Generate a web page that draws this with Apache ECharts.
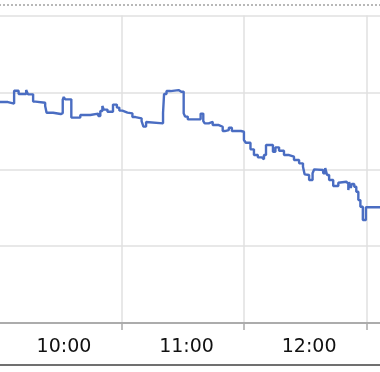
<!DOCTYPE html>
<html>
<head>
<meta charset="utf-8">
<script src="https://cdn.jsdelivr.net/npm/echarts@6/dist/echarts.min.js"></script>
<style>
html,body{margin:0;padding:0;background:#fff;overflow:hidden;width:380px;height:372px;}
#chart{position:absolute;left:-1px;top:0;width:429px;height:372px;}
</style>
</head>
<body>
<div id="chart"></div>
<script>
// minutes after 10:00
var minutes = [0,4.4,7.4,9.6,13.3,14.2,16.7,17.9,22.6,23.3,26.5,30.2,31.2,31.7,32.4,35.4,39.8,44.7,48.6,49.6,50.6,51.3,53.1,55.8,57.7,58.9,60.4,62.9,65.3,66.8,69.8,70.7,72.0,72.7,80.3,80.8,82.0,84.0,87.9,89.2,89.9,90.4,91.1,92.4,98.7,100.0,100.7,102.7,104.6,107.6,109.5,110.5,112.5,114.0,118.4,119.9,120.8,123.1,124.8,126.7,128.7,129.7,130.7,134.1,135.3,137.1,139.5,142.0,144.4,146.9,148.8,149.6,150.3,151.8,153.5,154.3,155.2,158.7,159.7,160.6,161.6,163.6,166.1,166.8,170.0,171.0,171.4,172.2,172.7,173.9,174.9,175.9,176.9,178.1,179.6,200];
var prices = [2.874,2.854,3.021,2.978,3.030,2.974,2.880,2.865,2.822,2.735,2.718,2.731,2.906,2.939,2.909,2.672,2.705,2.724,2.692,2.757,2.822,2.776,2.748,2.841,2.802,2.763,2.737,2.727,2.679,2.662,2.627,2.555,2.614,2.597,2.731,2.978,3.017,3.030,3.008,3.030,3.010,2.727,2.685,2.649,2.724,2.627,2.597,2.618,2.575,2.553,2.497,2.510,2.540,2.497,2.488,2.380,2.345,2.259,2.185,2.155,2.129,2.185,2.315,2.228,2.285,2.241,2.185,2.163,2.120,2.077,2.033,1.934,1.925,1.860,1.947,1.999,1.990,1.947,2.016,1.925,1.860,1.782,1.824,1.837,1.814,1.730,1.834,1.756,1.808,1.772,1.707,1.599,1.512,1.339,1.505,1.505];
var hourLabels = ["10:00","11:00","12:00","13:00"];

var data = minutes.map(function(m,i){return [m, prices[i]];});
var chart = echarts.init(document.getElementById('chart'));
chart.setOption({
  animation:false,
  backgroundColor:'#fff',
  grid:{left:0,right:0,top:15.5,bottom:49,containLabel:false,outerBoundsMode:'none'},
  xAxis:{
    type:'value',min:0,max:210,interval:60,
    axisLine:{show:true,lineStyle:{color:'#999999',width:1.5}},
    axisTick:{show:true,length:7,lineStyle:{color:'#aaaaaa',width:1.5}},
    axisLabel:{
      show:true,margin:15,padding:[0,0,0,130],
      fontFamily:'DejaVu Sans',fontSize:19,color:'#111',
      formatter:function(v){var i=Math.round(v/60);return hourLabels[i]||'';}
    },
    splitLine:{show:true,lineStyle:{color:'#e0e0e0',width:1.5}}
  },
  yAxis:{
    type:'value',min:0,max:4,interval:1,position:'right',
    axisLine:{show:false},axisTick:{show:false},axisLabel:{show:false},
    splitLine:{show:true,lineStyle:{color:'#e0e0e0',width:1.5}}
  },
  graphic:[
    {type:'line',shape:{x1:0,y1:5,x2:429,y2:5},style:{stroke:'#b8b8b8',lineWidth:2,lineDash:[2,2]}},
    {type:'line',shape:{x1:0,y1:365,x2:429,y2:365},style:{stroke:'#707070',lineWidth:2}}
  ],
  series:[{
    type:'line',step:'end',data:data,showSymbol:false,
    lineStyle:{color:'#4a6dc2',width:2.4},
    itemStyle:{color:'#4a6dc2'}
  }]
});
</script>
</body>
</html>
